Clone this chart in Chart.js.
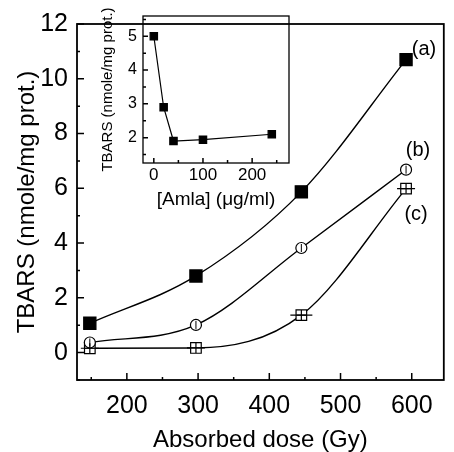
<!DOCTYPE html>
<html>
<head>
<meta charset="utf-8">
<script src="https://cdn.jsdelivr.net/npm/chart.js@4/dist/chart.umd.min.js"></script>
<style>
  body { margin: 0; background: #fff; }
  #wrap { position: relative; width: 454px; height: 452px; }
  #mainChart { position: absolute; left: 0; top: 0; }
  #insetChart { position: absolute; left: 95px; top: 0; }
</style>
</head>
<body>
<div id="wrap">
  <canvas id="mainChart" width="454" height="452"></canvas>
  <canvas id="insetChart" width="205" height="215"></canvas>
</div>
<script>
    // main plot data
    var doses = [148, 297, 445, 592];
    var seriesA = [1.07, 2.8, 5.87, 10.7];
    var seriesB = [0.37, 1.01, 3.82, 6.68];
    var seriesC = [0.16, 0.17, 1.37, 5.99];
    var curveNames = ['(a)', '(b)', '(c)'];

    var mainXTicks = [200, 300, 400, 500, 600];
    var mainXMinor = [150, 250, 350, 450, 550];
    var mainYTicks = [0, 2, 4, 6, 8, 10, 12];
    var mainYMinor = [-1, 1, 3, 5, 7, 9, 11];

    // inset data
    var amla = [0, 20, 40, 100, 240];
    var insetTbars = [5.0, 2.9, 1.9, 1.94, 2.1];
    var insetXTicks = [0, 100, 200];
    var insetXMinor = [50, 150, 250];
    var insetYTicks = [2, 3, 4, 5];
    var insetYMinor = [1.5, 2.5, 3.5, 4.5, 5.5];

    var fontFamily = "'Liberation Sans', Arial, sans-serif";

    function pts(xs, ys) {
        return xs.map((x, i) => ({ x: x, y: ys[i] }));
    }

    // frame round the plot area plus inward ticks
    var frameTicks = {
        id: 'frameTicks',
        afterDraw(chart, args, opts) {
            var ctx = chart.ctx, a = chart.chartArea;
            var sx = chart.scales.x, sy = chart.scales.y;
            ctx.save();
            ctx.strokeStyle = '#000';
            ctx.lineWidth = opts.frameWidth;
            ctx.strokeRect(a.left, a.top, a.right - a.left, a.bottom - a.top);
            ctx.lineWidth = 1.5;
            ctx.beginPath();
            opts.xMajor.forEach(v => { var p = sx.getPixelForValue(v); ctx.moveTo(p, a.bottom); ctx.lineTo(p, a.bottom - opts.major); });
            opts.xMinor.forEach(v => { var p = sx.getPixelForValue(v); ctx.moveTo(p, a.bottom); ctx.lineTo(p, a.bottom - opts.minor); });
            opts.yMajor.forEach(v => { var p = sy.getPixelForValue(v); ctx.moveTo(a.left, p); ctx.lineTo(a.left + opts.major, p); });
            opts.yMinor.forEach(v => { var p = sy.getPixelForValue(v); ctx.moveTo(a.left, p); ctx.lineTo(a.left + opts.minor, p); });
            ctx.stroke();
            ctx.restore();
        }
    };

    // (a) (b) (c) next to the last point of each curve
    var curveLabels = {
        id: 'curveLabels',
        afterDraw(chart, args, opts) {
            if (!opts.items) return;
            var ctx = chart.ctx;
            ctx.save();
            ctx.fillStyle = '#000';
            ctx.font = '20px ' + fontFamily;
            ctx.textAlign = 'center';
            ctx.textBaseline = 'middle';
            opts.items.forEach(it => {
                var el = chart.getDatasetMeta(it.dataset).data[it.index];
                ctx.fillText(it.text, el.x + it.dx, el.y + it.dy);
            });
            ctx.restore();
        }
    };

    var mainChart = new Chart(document.getElementById('mainChart'), {
        type: 'line',
        data: {
            datasets: [
                // inner marks and error bars, drawn on top
                { data: pts(doses, seriesC), showLine: false, pointStyle: 'cross', pointRadius: 5, borderColor: '#000', borderWidth: 1.2, order: 0 },
                { data: pts(doses, seriesC), showLine: false, pointStyle: 'line', pointRadius: [9, 9, 11, 9], borderColor: '#000', borderWidth: 1.2, order: 0 },
                { data: pts(doses, seriesB), showLine: false, pointStyle: 'line', rotation: 90, pointRadius: 4, borderColor: '#000', borderWidth: 1, order: 0 },
                // curves
                { label: curveNames[0], data: pts(doses, seriesA), borderColor: '#000', borderWidth: 1.4,
                  pointStyle: 'rect', pointRadius: 8.5, pointBackgroundColor: '#000', pointBorderColor: '#000', order: 1 },
                { label: curveNames[1], data: pts(doses, seriesB), borderColor: '#000', borderWidth: 1.4,
                  pointStyle: 'circle', pointRadius: 5.5, pointBackgroundColor: '#fff', pointBorderColor: '#000', pointBorderWidth: 1.2, order: 1 },
                { label: curveNames[2], data: pts(doses, seriesC), borderColor: '#000', borderWidth: 1.4,
                  pointStyle: 'rect', pointRadius: 7.5, pointBackgroundColor: '#fff', pointBorderColor: '#000', pointBorderWidth: 1.2, order: 1 }
            ]
        },
        options: {
            responsive: false,
            animation: false,
            layout: { padding: { top: 16, right: 2, left: 0, bottom: 0 } },
            elements: { line: { cubicInterpolationMode: 'monotone' } },
            scales: {
                x: {
                    type: 'linear', min: 130, max: 645,
                    afterBuildTicks: s => { s.ticks = mainXTicks.map(v => ({ value: v })); },
                    afterFit: s => { s.height = 72; },
                    grid: { display: false, drawTicks: false },
                    border: { display: false },
                    ticks: { color: '#000', font: { size: 25, family: fontFamily }, padding: 11, maxRotation: 0 },
                    title: { display: true, text: 'Absorbed dose (Gy)', color: '#000',
                             font: { size: 24, family: fontFamily, lineHeight: 1 }, padding: { top: 0, bottom: 0 } }
                },
                y: {
                    type: 'linear', min: -1, max: 12,
                    afterBuildTicks: s => { s.ticks = mainYTicks.map(v => ({ value: v })); },
                    afterFit: s => { s.width = 77; },
                    grid: { display: false, drawTicks: false },
                    border: { display: false },
                    ticks: { color: '#000', font: { size: 25, family: fontFamily }, padding: 9 },
                    title: { display: true, text: 'TBARS (nmole/mg prot.)', color: '#000',
                             font: { size: 24, family: fontFamily, lineHeight: 1 }, padding: { top: 15, bottom: 0 } }
                }
            },
            plugins: {
                legend: { display: false },
                tooltip: { enabled: false },
                frameTicks: { frameWidth: 1.8, major: 7, minor: 3,
                              xMajor: mainXTicks, xMinor: mainXMinor, yMajor: mainYTicks, yMinor: mainYMinor },
                curveLabels: { items: [
                    { dataset: 3, index: 3, text: curveNames[0], dx: 18, dy: -10 },
                    { dataset: 4, index: 3, text: curveNames[1], dx: 12, dy: -19 },
                    { dataset: 5, index: 3, text: curveNames[2], dx: 10, dy: 26 }
                ] }
            }
        },
        plugins: [frameTicks, curveLabels]
    });

    var insetChart = new Chart(document.getElementById('insetChart'), {
        type: 'line',
        data: {
            datasets: [{
                data: pts(amla, insetTbars), borderColor: '#000', borderWidth: 1.2,
                pointStyle: 'rect', pointRadius: 5.2, pointBackgroundColor: '#000', pointBorderColor: '#000'
            }]
        },
        options: {
            responsive: false,
            animation: false,
            layout: { padding: { top: 16, right: 11, left: 0, bottom: 0 } },
            scales: {
                x: {
                    type: 'linear', min: -22, max: 275,
                    afterBuildTicks: s => { s.ticks = insetXTicks.map(v => ({ value: v })); },
                    afterFit: s => { s.height = 52; },
                    grid: { display: false, drawTicks: false },
                    border: { display: false },
                    ticks: { color: '#000', font: { size: 17, family: fontFamily }, padding: 2, maxRotation: 0 },
                    title: { display: true, text: '[Amla] (\u03bcg/ml)', color: '#000',
                             font: { size: 19, family: fontFamily, lineHeight: 1 }, padding: { top: 0, bottom: 6 } }
                },
                y: {
                    type: 'linear', min: 1.25, max: 5.6,
                    afterBuildTicks: s => { s.ticks = insetYTicks.map(v => ({ value: v })); },
                    afterFit: s => { s.width = 48; },
                    grid: { display: false, drawTicks: false },
                    border: { display: false },
                    ticks: { color: '#000', font: { size: 16, family: fontFamily }, padding: 6 },
                    title: { display: true, text: 'TBARS (nmole/mg prot.)', color: '#000',
                             font: { size: 15, family: fontFamily, lineHeight: 1 }, padding: { top: 5, bottom: 0 } }
                }
            },
            plugins: {
                legend: { display: false },
                tooltip: { enabled: false },
                frameTicks: { frameWidth: 1.3, major: 5, minor: 3,
                              xMajor: insetXTicks, xMinor: insetXMinor, yMajor: insetYTicks, yMinor: insetYMinor }
            }
        },
        plugins: [frameTicks]
    });
</script>
</body>
</html>
